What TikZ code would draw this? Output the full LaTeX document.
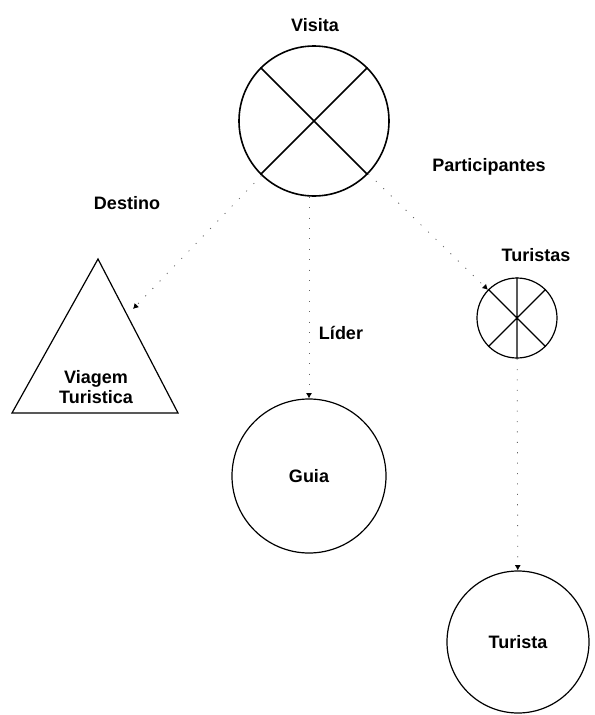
\documentclass[tikz,border=0pt]{standalone}
\usepackage{fontspec}
\setmainfont{Liberation Sans}
\usetikzlibrary{arrows.meta,positioning,calc}

\begin{document}
\begin{tikzpicture}[x=0.75pt,y=-0.75pt,
  entidade/.style={draw,circle,line width=0.9pt,inner sep=0pt,font=\bfseries\fontsize{13.5}{15}\selectfont},
  rotulo/.style={font=\bfseries\fontsize{13.5}{15}\selectfont},
  ligacao/.style={black!60,line width=0.6pt,dash pattern=on 0.8pt off 7pt,-{Latex[length=4pt,width=4.5pt,black]}}]
  \useasboundingbox (0,0) rectangle (594,715);
  % entidades
  \node[entidade,minimum size=112.5pt,line width=1.2pt] (vis) at (314,121) {};
  \node[entidade,minimum size=60pt] (tus) at (517,318) {};
  \node[entidade,minimum size=115.5pt] (gui) at (309,476) {Guia};
  \node[entidade,minimum size=106.5pt] (tur) at (518,642) {Turista};
  % triangulo
  \coordinate (ta) at (98,259);
  \coordinate (tb) at (12,413);
  \coordinate (tc) at (178,413);
  \draw[line width=0.9pt] (ta) -- (tb) -- (tc) -- cycle;
  \node[rotulo,align=center] (via) at (96,387) {Viagem\\Turistica};
  \coordinate (dst) at (133,309);
  % cruzes
  \draw[line width=1.2pt] (vis.135) -- (vis.-45) (vis.45) -- (vis.-135);
  \draw[line width=0.9pt] (tus.135) -- (tus.-45) (tus.45) -- (tus.-135) (tus.north) -- (tus.south);
  % ligacoes
  \draw[ligacao] (vis) -- (dst);
  \draw[ligacao] (vis) -- (tus);
  \draw[ligacao] (vis.south -| gui.north) -- (gui.north);
  \draw[ligacao] (tus) -- (tur);
  % rotulos
  \node[rotulo] (lvis) at (315,25) {Visita};
  \node[rotulo] (ldst) at (127,203) {Destino};
  \node[rotulo] (lpar) at (489,167) {Participantes};
  \node[rotulo] (ltus) at (536,255) {Turistas};
  \node[rotulo] (llid) at (341,333) {Líder};
\end{tikzpicture}
\end{document}
